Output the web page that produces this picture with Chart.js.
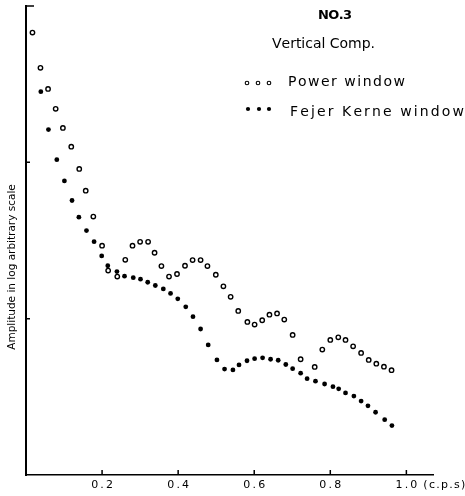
<!DOCTYPE html>
<html>
<head>
<meta charset="utf-8">
<script src="https://cdn.jsdelivr.net/npm/chart.js@4.4.1/dist/chart.umd.min.js"></script>
<style>
  html, body { margin: 0; padding: 0; background: #fff; }
</style>
</head>
<body>
<canvas id="spectrum" width="465" height="496"></canvas>
<script>
// Power window spectrum (open circles)
const powerFreq = [0.017, 0.038, 0.058, 0.078, 0.097, 0.119, 0.140, 0.157, 0.177, 0.200,
  0.216, 0.240, 0.261, 0.280, 0.300, 0.321, 0.338, 0.356, 0.376, 0.397,
  0.418, 0.438, 0.459, 0.477, 0.499, 0.519, 0.538, 0.558, 0.582, 0.601,
  0.621, 0.640, 0.660, 0.679, 0.701, 0.722, 0.759, 0.779, 0.800, 0.821,
  0.840, 0.860, 0.881, 0.901, 0.921, 0.941, 0.961];
const powerAmp = [676, 402, 295, 220, 166, 126, 90.8, 65.9, 45.0, 29.3,
  20.3, 18.6, 23.8, 29.3, 31.0, 31.0, 26.4, 21.7, 18.6, 19.3,
  21.8, 23.7, 23.7, 21.7, 19.1, 16.1, 13.8, 11.2, 9.53, 9.16,
  9.77, 10.6, 10.8, 9.86, 7.87, 5.50, 4.91, 6.34, 7.31, 7.60,
  7.31, 6.65, 6.04, 5.45, 5.15, 4.93, 4.68];

// Fejer kernel window spectrum (filled circles)
const fejerFreq = [0.039, 0.059, 0.081, 0.101, 0.121, 0.139, 0.159, 0.179, 0.199, 0.215,
  0.239, 0.259, 0.282, 0.301, 0.320, 0.340, 0.361, 0.380, 0.399, 0.420,
  0.439, 0.459, 0.479, 0.502, 0.522, 0.544, 0.560, 0.581, 0.601, 0.622,
  0.643, 0.663, 0.683, 0.701, 0.722, 0.739, 0.761, 0.785, 0.807, 0.822,
  0.840, 0.862, 0.881, 0.899, 0.919, 0.943, 0.962];
const fejerAmp = [283, 162, 104, 76.0, 57.0, 44.6, 36.6, 31.1, 25.2, 21.8,
  20.0, 18.7, 18.3, 17.9, 17.1, 16.3, 15.5, 14.5, 13.4, 11.9,
  10.3, 8.59, 6.79, 5.45, 4.76, 4.70, 5.06, 5.38, 5.55, 5.62,
  5.50, 5.42, 5.09, 4.79, 4.48, 4.13, 3.98, 3.82, 3.67, 3.56,
  3.35, 3.20, 2.97, 2.77, 2.52, 2.26, 2.07];

const freqTicks = [0.2, 0.4, 0.6, 0.8, 1.0];
const ampTicks = [10, 100];
const ampTop = 1000;

const FONT = "DejaVu Sans";

function toPoints(xs, ys) {
  return xs.map((x, i) => ({ x: x, y: ys[i] }));
}

// draw text one glyph at a time, spread out to fill the given width
function spacedText(ctx, text, x, y, width) {
  const chars = Array.from(text);
  const natural = chars.reduce((s, ch) => s + ctx.measureText(ch).width, 0);
  const gap = chars.length > 1 ? (width - natural) / (chars.length - 1) : 0;
  let cx = x;
  chars.forEach((ch) => {
    ctx.fillText(ch, cx, y);
    cx += ctx.measureText(ch).width + gap;
  });
}

const framePlugin = {
  id: "frame",
  afterDraw(chart) {
    const ctx = chart.ctx;
    const xs = chart.scales.x;
    const ys = chart.scales.y;
    const area = chart.chartArea;
    ctx.save();
    ctx.strokeStyle = "#000";
    ctx.fillStyle = "#000";
    ctx.lineWidth = 1.5;

    // inward tick marks
    ctx.beginPath();
    freqTicks.forEach((v) => {
      const px = xs.getPixelForValue(v);
      ctx.moveTo(px, area.bottom);
      ctx.lineTo(px, area.bottom - 5);
    });
    ampTicks.forEach((v) => {
      const py = ys.getPixelForValue(v);
      ctx.moveTo(area.left, py);
      ctx.lineTo(area.left + 4, py);
    });
    const topY = ys.getPixelForValue(ampTop);
    ctx.moveTo(area.left, topY);
    ctx.lineTo(area.left + 8, topY);
    ctx.stroke();

    // unit after the last tick label
    ctx.font = "11px " + FONT;
    ctx.textBaseline = "middle";
    ctx.textAlign = "left";
    spacedText(ctx, "(c.p.s)", xs.getPixelForValue(1.0) + 17, 485, 42);

    // y axis caption
    ctx.save();
    ctx.translate(12, 267);
    ctx.rotate(-Math.PI / 2);
    ctx.textAlign = "center";
    ctx.font = "10.5px " + FONT;
    ctx.fillText("Amplitude in log arbitrary scale", 0, 0);
    ctx.restore();

    // headings
    ctx.textAlign = "left";
    ctx.font = "bold 13px " + FONT;
    spacedText(ctx, "NO.3", 318, 16, 34);
    ctx.font = "14px " + FONT;
    spacedText(ctx, "Vertical Comp.", 272, 44, 103);

    // legend
    ctx.font = "14px " + FONT;
    spacedText(ctx, "Power window", 288, 82, 117);
    spacedText(ctx, "Fejer Kerne window", 290, 112, 174);

    ctx.lineWidth = 1.1;
    [247, 258, 269].forEach((cx) => {
      ctx.beginPath();
      ctx.arc(cx, 83, 1.8, 0, Math.PI * 2);
      ctx.stroke();
    });
    [248, 259, 269].forEach((cx) => {
      ctx.beginPath();
      ctx.arc(cx, 109, 2.1, 0, Math.PI * 2);
      ctx.fill();
    });
    ctx.restore();
  }
};

new Chart(document.getElementById("spectrum"), {
  type: "scatter",
  data: {
    datasets: [
      {
        label: "Power window",
        data: toPoints(powerFreq, powerAmp),
        pointRadius: 2.2,
        pointBorderWidth: 1.4,
        pointBorderColor: "#000",
        pointBackgroundColor: "#fff",
      },
      {
        label: "Fejer Kerne window",
        data: toPoints(fejerFreq, fejerAmp),
        pointRadius: 2.4,
        pointBorderWidth: 0,
        pointBackgroundColor: "#000",
      },
    ],
  },
  options: {
    responsive: false,
    animation: false,
    layout: { padding: { left: 26, top: 6, right: 32, bottom: 5 } },
    plugins: {
      legend: { display: false },
      tooltip: { enabled: false },
    },
    scales: {
      x: {
        type: "linear",
        min: 0,
        max: 1.07,
        grid: { display: false, drawTicks: false },
        border: { display: true, color: "#000", width: 1.5 },
        afterFit: (scale) => { scale.height = 16; },
        ticks: {
          stepSize: 0.2,
          includeBounds: false,
          padding: 4,
          color: "#000",
          font: { family: FONT, size: 11 },
          callback: (v) => (v > 0.1 ? v.toFixed(1).split("").join("\u2009") : ""),
        },
      },
      y: {
        type: "logarithmic",
        min: 1,
        max: ampTop,
        grid: { display: false, drawTicks: false },
        border: { display: true, color: "#000", width: 2 },
        afterFit: (scale) => { scale.width = 0; },
        ticks: { display: false },
      },
    },
  },
  plugins: [framePlugin],
});
</script>
</body>
</html>
